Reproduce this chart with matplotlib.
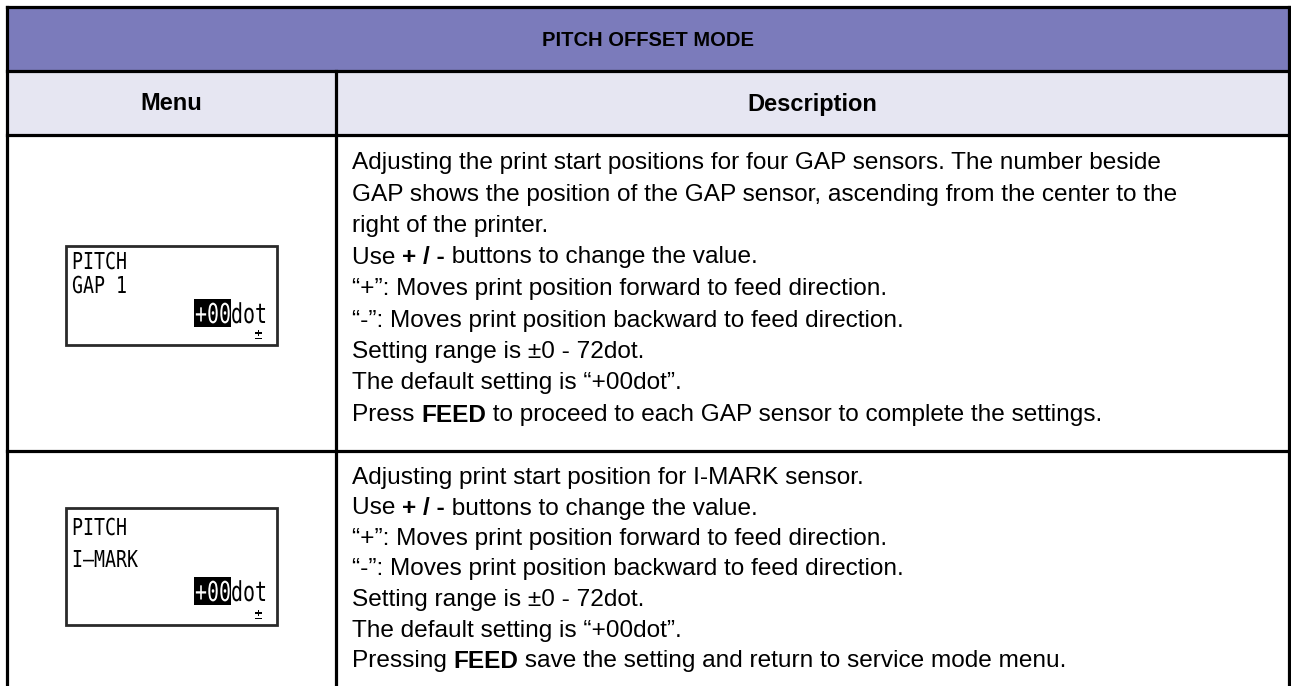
import matplotlib
matplotlib.use("Agg")
import matplotlib.pyplot as plt
from matplotlib.patches import Rectangle, PathPatch
from matplotlib.textpath import TextPath
from matplotlib.font_manager import FontProperties
from matplotlib.transforms import Affine2D

W, H = 1291, 686

title = "PITCH OFFSET MODE"
col_headers = ["Menu", "Description"]

# each line is a list of (text, bold) runs
desc_gap = [
    [("Adjusting the print start positions for four GAP sensors. The number beside", False)],
    [("GAP shows the position of the GAP sensor, ascending from the center to the", False)],
    [("right of the printer.", False)],
    [("Use ", False), ("+ / -", True), (" buttons to change the value.", False)],
    [("\u201c+\u201d: Moves print position forward to feed direction.", False)],
    [("\u201c-\u201d: Moves print position backward to feed direction.", False)],
    [("Setting range is \u00b10 - 72dot.", False)],
    [("The default setting is \u201c+00dot\u201d.", False)],
    [("Press ", False), ("FEED", True), (" to proceed to each GAP sensor to complete the settings.", False)],
]
desc_imark = [
    [("Adjusting print start position for I-MARK sensor.", False)],
    [("Use ", False), ("+ / -", True), (" buttons to change the value.", False)],
    [("\u201c+\u201d: Moves print position forward to feed direction.", False)],
    [("\u201c-\u201d: Moves print position backward to feed direction.", False)],
    [("Setting range is \u00b10 - 72dot.", False)],
    [("The default setting is \u201c+00dot\u201d.", False)],
    [("Pressing ", False), ("FEED", True), (" save the setting and return to service mode menu.", False)],
]
lcd_gap = ["PITCH", "GAP 1"]
lcd_imark = ["PITCH", "I\u2013MARK"]
lcd_value = "+00"
lcd_unit = "dot"

fig = plt.figure(figsize=(W / 100, H / 100), dpi=100)
ax = fig.add_axes([0, 0, 1, 1])
ax.set_xlim(0, W)
ax.set_ylim(H, 0)
ax.axis("off")

FONT = "Liberation Sans"
lw = 2.3
x0, x1, xc = 7, 1289, 336
y_top, y_head, y_r1, y_r2 = 7, 71, 135, 451

ax.add_patch(Rectangle((x0, y_top), x1 - x0, y_head - y_top, fc="#7b7bbb", ec="none"))
ax.add_patch(Rectangle((x0, y_head), x1 - x0, y_r1 - y_head, fc="#e6e6f2", ec="none"))
for y in [y_top, y_head, y_r1, y_r2]:
    ax.plot([x0, x1], [y, y], color="black", lw=lw, solid_capstyle="projecting")
ax.plot([x0, x0], [y_top, H + 5], color="black", lw=lw)
ax.plot([x1, x1], [y_top, H + 5], color="black", lw=lw)
ax.plot([xc, xc], [y_head, H + 5], color="black", lw=lw)

ax.text((x0 + x1) / 2, 40, title, ha="center", va="center", fontsize=14.5,
        fontweight="bold", family=FONT)
ax.text((x0 + xc) / 2, 104, col_headers[0], ha="center", va="center",
        fontsize=17, fontweight="bold", family=FONT)
ax.text((xc + x1) / 2, 104, col_headers[1], ha="center", va="center",
        fontsize=17, fontweight="bold", family=FONT)

fig.canvas.draw()
renderer = fig.canvas.get_renderer()


def rich_lines(lines, x, y, dy, size=17.6):
    for i, runs in enumerate(lines):
        cx = x
        for s, bold in runs:
            t = ax.text(cx, y + i * dy, s, ha="left", va="center", fontsize=size,
                        family=FONT, fontweight="bold" if bold else "normal")
            cx += t.get_window_extent(renderer).width


rich_lines(desc_gap, 352, 163, 31.5)
rich_lines(desc_imark, 352, 478, 30.5)

mono = FontProperties(family="DejaVu Sans Mono")


def lcd_text(s, x, y_base, cw, ch, color="black"):
    # draw monospace text with chosen char width / cap height (pixels)
    tp = TextPath((0, 0), s, size=10, prop=mono)
    sx = cw / 6.02
    sy = ch / 7.29
    tr = Affine2D().scale(sx, -sy).translate(x, y_base) + ax.transData
    ax.add_patch(PathPatch(tp, fc=color, ec="none", transform=tr))


def lcd_box(lines, top, bottom, line_y, val_y):
    bx0, bx1 = 66, 277
    ax.add_patch(Rectangle((bx0, top), bx1 - bx0, bottom - top, fc="white",
                           ec="#2a2a2a", lw=2.0))
    for s, yb in zip(lines, line_y):
        lcd_text(s, 72, yb, 11.0, 17)
    # highlighted value
    ax.add_patch(Rectangle((194, val_y - 24), 37, 28, fc="black", ec="none"))
    lcd_text(lcd_value, 195, val_y, 12.0, 20, color="white")
    lcd_text(lcd_unit, 231, val_y, 12.0, 20)
    lcd_text("\u00b1", 254, bottom - 6, 9, 12)


lcd_box(lcd_gap, 246, 345, [269, 293], 323)
lcd_box(lcd_imark, 508, 625, [535, 567], 601)

fig.savefig("out.png", dpi=100)
